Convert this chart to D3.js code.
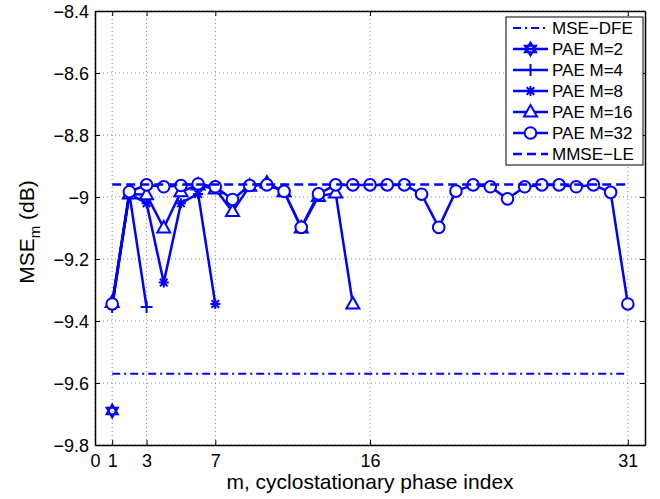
<!DOCTYPE html>
<html><head><meta charset="utf-8">
<script src="https://cdn.jsdelivr.net/npm/d3@7"></script>
<style>body{margin:0;background:#fff;} text{font-family:"Liberation Sans",Arial,sans-serif;}</style>
</head><body>
<svg id="c" width="660" height="499"></svg>
<script>
const xTicks = [0, 1, 3, 7, 16, 31];
const yTicks = [-9.8, -9.6, -9.4, -9.2, -9, -8.8, -8.6, -8.4];
const mseDfe = -9.57;
const mmseLe = -8.96;
const paeM2 = [-9.69];
const paeM4 = [-9.355, -8.99, -9.355];
const paeM8 = [-9.35, -8.99, -9.02, -9.276, -9.02, -8.99, -9.345];
const paeM16 = [-9.34, -8.99, -8.993, -9.10, -8.983, -8.961, -8.974, -9.047, -8.965, -8.955, -8.983, -9.10, -8.998, -8.987, -9.345];
const paeM32 = [-9.345, -8.983, -8.961, -8.967, -8.963, -8.958, -8.967, -9.008, -8.963, -8.961, -8.982, -9.098, -8.99, -8.961, -8.961, -8.961, -8.961, -8.961, -8.991, -9.098, -8.981, -8.961, -8.967, -9.006, -8.967, -8.961, -8.961, -8.967, -8.961, -8.985, -9.345];
const legendLabels = ["MSE\u2212DFE", "PAE M=2", "PAE M=4", "PAE M=8", "PAE M=16", "PAE M=32", "MMSE\u2212LE"];

const blue = "#0000ff";
const svg = d3.select("#c");
const L = 95, R = 645, T = 11, B = 445;
const x = d3.scaleLinear().domain([0, 32]).range([L, R]);
const y = d3.scaleLinear().domain([-9.8, -8.4]).range([B, T]);
const fmt = v => (v === 0 ? "0" : d3.format("")(v)).replace("-", "\u2212");

// grid
const grid = svg.append("g");
xTicks.forEach(t => grid.append("line").attr("x1", x(t)).attr("x2", x(t)).attr("y1", T).attr("y2", B)
  .attr("stroke", "#888").attr("stroke-width", 1).attr("stroke-dasharray", "1,3"));
yTicks.forEach(t => grid.append("line").attr("x1", L).attr("x2", R).attr("y1", y(t)).attr("y2", y(t))
  .attr("stroke", "#888").attr("stroke-width", 1).attr("stroke-dasharray", "1,3"));

// axes
const axB = svg.append("g").attr("transform", `translate(0,${B})`)
  .call(d3.axisBottom(x).tickValues(xTicks).tickSizeInner(-5).tickSizeOuter(0).tickPadding(9).tickFormat(d => d));
const axT = svg.append("g").attr("transform", `translate(0,${T})`)
  .call(d3.axisTop(x).tickValues(xTicks).tickSizeInner(-5).tickSizeOuter(0).tickFormat(""));
const axL = svg.append("g").attr("transform", `translate(${L},0)`)
  .call(d3.axisLeft(y).tickValues(yTicks).tickSizeInner(-5).tickSizeOuter(0).tickPadding(6).tickFormat(fmt));
const axR = svg.append("g").attr("transform", `translate(${R},0)`)
  .call(d3.axisRight(y).tickValues(yTicks).tickSizeInner(-5).tickSizeOuter(0).tickFormat(""));
[axB, axT, axL, axR].forEach(a => {
  a.select(".domain").attr("stroke", "#000").attr("stroke-width", 1.5);
  a.selectAll(".tick line").attr("stroke", "#000");
  a.selectAll("text").attr("font-size", 18).attr("fill", "#000").attr("font-family", "Liberation Sans, Arial, sans-serif");
});
axB.selectAll(".tick text").attr("dy", "0.71em");
axL.selectAll(".tick text").attr("dy", "0.35em");

// markers
function marker(g, type, cx, cy) {
  const s = g.append("g").attr("transform", `translate(${cx},${cy})`);
  if (type === "circle") {
    s.append("circle").attr("r", 5.8).attr("fill", "#fff").attr("stroke", blue).attr("stroke-width", 2);
  } else if (type === "triangle") {
    s.append("path").attr("d", "M0,-7L6.5,4.5L-6.5,4.5Z").attr("fill", "#fff").attr("stroke", blue).attr("stroke-width", 2);
  } else if (type === "plus") {
    s.append("path").attr("d", "M-6,0H6M0,-6V6").attr("stroke", blue).attr("stroke-width", 2);
  } else if (type === "star") {
    s.append("path").attr("d", "M-5,0H5M0,-5V5M-3.8,-3.8L3.8,3.8M-3.8,3.8L3.8,-3.8").attr("stroke", blue).attr("stroke-width", 2);
  } else if (type === "hexagram") {
    const r = 6.5;
    const t1 = [0, 1, 2].map(i => [r * Math.sin(i * 2 * Math.PI / 3), -r * Math.cos(i * 2 * Math.PI / 3)]);
    const t2 = [0, 1, 2].map(i => [r * Math.sin(Math.PI + i * 2 * Math.PI / 3), -r * Math.cos(Math.PI + i * 2 * Math.PI / 3)]);
    s.append("path").attr("d", "M" + t1.join("L") + "Z").attr("fill", "none").attr("stroke", blue).attr("stroke-width", 2);
    s.append("path").attr("d", "M" + t2.join("L") + "Z").attr("fill", "none").attr("stroke", blue).attr("stroke-width", 2);
  }
}

const plot = svg.append("g");
// MSE-DFE dash-dot
plot.append("line").attr("x1", x(1)).attr("x2", x(31)).attr("y1", y(mseDfe)).attr("y2", y(mseDfe))
  .attr("stroke", blue).attr("stroke-width", 2).attr("stroke-dasharray", "8,4,2,4");

const line = d3.line().x((d, i) => x(i + 1)).y(d => y(d));
const series = [[paeM2, "hexagram"], [paeM4, "plus"], [paeM8, "star"], [paeM16, "triangle"], [paeM32, "circle"]];
series.forEach(([vals, mk]) => {
  if (vals.length > 1) plot.append("path").datum(vals).attr("d", line).attr("fill", "none")
    .attr("stroke", blue).attr("stroke-width", 2.5).attr("stroke-linejoin", "round");
  vals.forEach((v, i) => marker(plot, mk, x(i + 1), y(v)));
});

// MMSE-LE dashed
plot.append("line").attr("x1", x(1)).attr("x2", x(31)).attr("y1", y(mmseLe)).attr("y2", y(mmseLe))
  .attr("stroke", blue).attr("stroke-width", 2.5).attr("stroke-dasharray", "9,5");

// legend
const lg = svg.append("g");
const lx0 = 506, ly0 = 17, lw = 137, lh = 148;
lg.append("rect").attr("x", lx0).attr("y", ly0).attr("width", lw).attr("height", lh)
  .attr("fill", "#fff").attr("stroke", "#000").attr("stroke-width", 1);
const kinds = ["dfe", "hexagram", "plus", "star", "triangle", "circle", "le"];
legendLabels.forEach((lab, i) => {
  const yy = 28 + i * 21;
  const k = kinds[i];
  const ln = lg.append("line").attr("x1", 513).attr("x2", 548).attr("y1", yy).attr("y2", yy)
    .attr("stroke", blue).attr("stroke-width", k === "dfe" ? 2 : 2.5);
  if (k === "dfe") ln.attr("stroke-dasharray", "8,4,2,4");
  else if (k === "le") ln.attr("stroke-dasharray", "9,5");
  else marker(lg, k, 530.5, yy);
  lg.append("text").attr("x", 552).attr("y", yy).attr("dy", "0.36em").attr("font-size", 17).text(lab);
});

// axis labels
svg.append("text").attr("x", 370).attr("y", 489).attr("text-anchor", "middle").attr("font-size", 21)
  .text("m, cyclostationary phase index");
const yl = svg.append("text").attr("transform", "translate(34,232) rotate(-90)").attr("text-anchor", "middle").attr("font-size", 21);
yl.append("tspan").text("MSE");
yl.append("tspan").attr("font-size", 15).attr("dy", 6).text("m");
yl.append("tspan").attr("dy", -6).text(" (dB)");
</script>
</body></html>
